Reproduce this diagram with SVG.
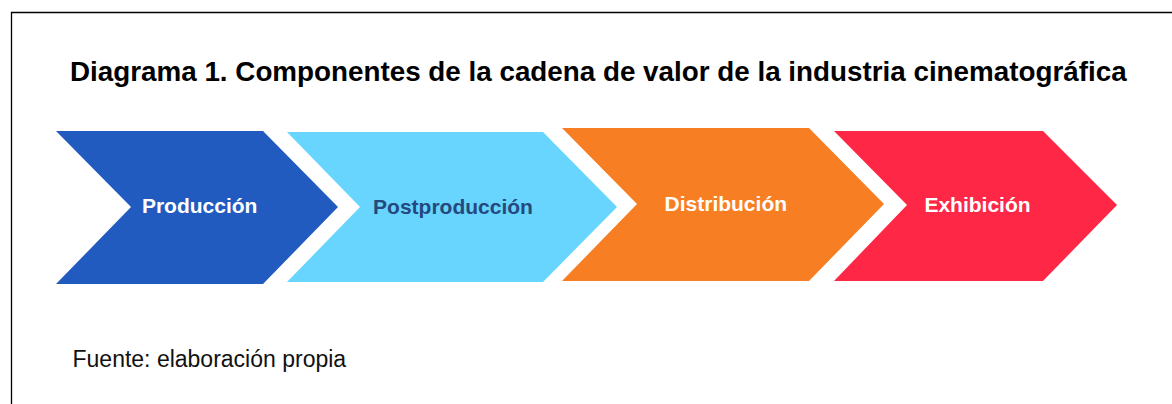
<svg xmlns="http://www.w3.org/2000/svg" width="1172" height="404" viewBox="0 0 1172 404">
<style>
.title{font-family:"Liberation Sans",Arial,sans-serif;font-weight:bold;font-size:27.8px;fill:#000}
.lbl{font-family:"Liberation Sans",Arial,sans-serif;font-weight:bold;font-size:21px;text-anchor:middle}
.foot{font-family:"Liberation Sans",Arial,sans-serif;font-size:23px;fill:#111}
</style>
<rect width="1172" height="404" fill="#fff"/>
<path d="M11.5,404 V12.5 H1172" fill="none" stroke="#000" stroke-width="1.3"/>
<text class="title" x="70" y="81">Diagrama 1. Componentes de la cadena de valor de la industria cinematográfica</text>
<g id="connectors"></g>
<g id="produccion">
<polygon points="56,131 263,131 338,207 263,284 56,284 131,207" fill="#215BC0"/>
<text class="lbl" x="199.7" y="213" fill="#fff">Producción</text>
</g>
<g id="postproduccion">
<polygon points="287,132 543,132 617,207 543,282 287,282 360,207" fill="#67D5FD"/>
<text class="lbl" x="453" y="214" fill="#25497E">Postproducción</text>
</g>
<g id="distribucion">
<polygon points="562,128 809,128 884,204 809,281 562,281 637,204" fill="#F87E23"/>
<text class="lbl" x="725.8" y="211" fill="#fff">Distribución</text>
</g>
<g id="exhibicion">
<polygon points="834,131 1043,131 1117,205 1043,281 834,281 907,205" fill="#FE2846"/>
<text class="lbl" x="977.5" y="212" fill="#fff">Exhibición</text>
</g>
<text class="foot" x="72.5" y="367">Fuente: elaboración propia</text>
</svg>
